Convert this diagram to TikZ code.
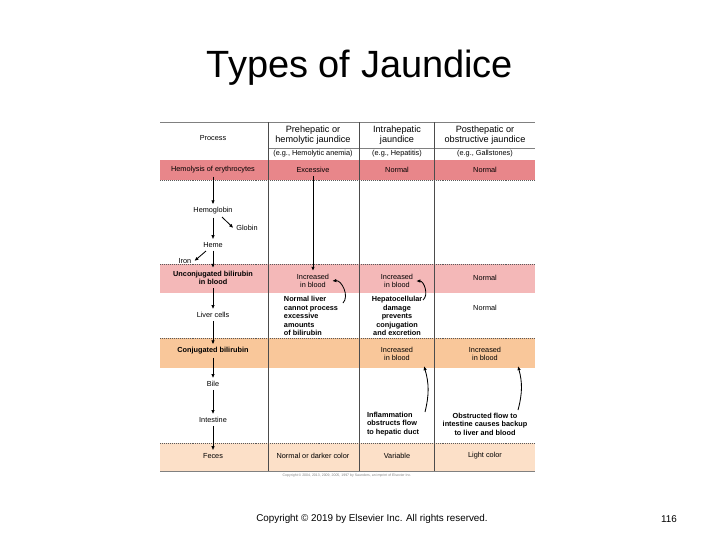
\documentclass[tikz,border=0pt]{standalone}
\usepackage{fontspec}
\setmainfont{Liberation Sans}
\usetikzlibrary{arrows.meta}
\definecolor{rowhemo}{HTML}{E8868A}
\definecolor{rowunc}{HTML}{F4B8B8}
\definecolor{rowcon}{HTML}{F9C79A}
\definecolor{rowfec}{HTML}{FCE0C8}

\begin{document}
\begin{tikzpicture}[x=0.025cm,y=-0.025cm,
  txt/.style={font=\fontsize{5.2}{6}\selectfont,align=center,inner sep=2pt},
  bld/.style={txt,font=\fontsize{5.2}{6}\selectfont\bfseries},
  head/.style={txt,font=\fontsize{6.5}{7}\selectfont},
  flow/.style={-{Latex[length=3pt,width=2.5pt]},semithick},
  dots/.style={densely dotted,gray!70!black}]
  \useasboundingbox (0,0) rectangle (720,540);
  % rows
  \fill[rowhemo] (160,160) rectangle (535,180);
  \fill[rowunc] (160,264) rectangle (535,293);
  \fill[rowcon] (160,338) rectangle (535,368);
  \fill[rowfec] (160,443) rectangle (535,471);
  \foreach \y in {180,264,338,443} \draw[dots] (160,\y) -- (535,\y);
  \draw[gray] (160,122) -- (535,122);
  \draw[gray] (268,148) -- (535,148);
  \draw[gray] (160,471) -- (535,471);
  \foreach \x in {268,359,434} \draw[gray!60!black] (\x,122) -- (\x,471);
  % heads
  \node[txt] (hproc) at (213,138) {Process};
  \node[head] (hpre) at (313,135) {Prehepatic or\\hemolytic jaundice};
  \node[head] (hintra) at (397,135) {Intrahepatic\\jaundice};
  \node[head] (hpost) at (485,135) {Posthepatic or\\obstructive jaundice};
  \node[txt] (epre) at (313,154) {(e.g., Hemolytic anemia)};
  \node[txt] (eintra) at (397,154) {(e.g., Hepatitis)};
  \node[txt] (epost) at (485,154) {(e.g., Gallstones)};
  % process column
  \node[txt] (hemo) at (213,170) {Hemolysis of erythrocytes};
  \node[txt] (hgb) at (213,211) {Hemoglobin};
  \node[txt] (glob) at (247,228) {Globin};
  \node[txt] (heme) at (213,245) {Heme};
  \node[txt] (iron) at (185,261) {Iron};
  \node[bld] (unc) at (213,278) {Unconjugated bilirubin\\in blood};
  \node[txt] (liver) at (213,315) {Liver cells};
  \node[bld] (con) at (213,351) {Conjugated bilirubin};
  \node[txt] (bile) at (213,384) {Bile};
  \node[txt] (intest) at (213,420) {Intestine};
  \node[txt] (feces) at (213,456) {Feces};
  \draw[flow] (hemo) -- (hgb);
  \draw[flow] (hgb) -- (heme);
  \draw[flow] (222,217) -- (glob.west);
  \draw[flow] (206,251) -- (iron.east);
  \draw[flow] (heme) -- (unc);
  \draw[flow] (unc) -- (liver);
  \draw[flow] (liver) -- (con);
  \draw[flow] (con) -- (bile);
  \draw[flow] (bile) -- (intest);
  \draw[flow] (intest) -- (feces);
  % prehepatic
  \node[txt] (pexc) at (313,170) {Excessive};
  \node[txt] (punc) at (313,281) {Increased\\in blood};
  \node[bld,align=left] (pnote) at (311,316) {Normal liver\\cannot process\\excessive\\amounts\\of bilirubin};
  \node[txt] (pfec) at (313,456) {Normal or darker color};
  \draw[flow] (pexc) -- (punc);
  \draw[flow] (343,303) to[bend right=70] (punc.east);
  % intrahepatic
  \node[txt] (iexc) at (397,170) {Normal};
  \node[txt] (iunc) at (397,281) {Increased\\in blood};
  \node[bld] (inote) at (397,316) {Hepatocellular\\damage\\prevents\\conjugation\\and excretion};
  \node[txt] (icon) at (397,354) {Increased\\in blood};
  \node[bld,align=left] (iobs) at (393,424) {Inflammation\\obstructs flow\\to hepatic duct};
  \node[txt] (ifec) at (397,456) {Variable};
  \draw[flow] (423,300) to[bend right=70] (iunc.east);
  \draw[flow] (425,412) to[bend right=15] (424,366);
  % posthepatic
  \node[txt] (oexc) at (485,170) {Normal};
  \node[txt] (ounc) at (485,278) {Normal};
  \node[txt] (oliv) at (485,308) {Normal};
  \node[txt] (ocon) at (485,354) {Increased\\in blood};
  \node[bld] (oobs) at (485,424) {Obstructed flow to\\intestine causes backup\\to liver and blood};
  \node[txt] (ofec) at (485,456) {Light color};
  \draw[flow] (518,410) to[bend right=15] (518,366);
  % captions
  \node[font=\fontsize{27}{30}\selectfont] (title) at (360,68) {Types of Jaundice};
  \node[font=\fontsize{2.5}{3}\selectfont,gray] (small) at (347,476) {Copyright © 2004, 2013, 2009, 2005, 1997 by Saunders, an imprint of Elsevier Inc.};
  \node[font=\fontsize{7}{8}\selectfont] (copy) at (372,519) {Copyright © 2019 by Elsevier Inc. All rights reserved.};
  \node[font=\fontsize{7}{8}\selectfont] (page) at (669,519) {116};
\end{tikzpicture}
\end{document}
